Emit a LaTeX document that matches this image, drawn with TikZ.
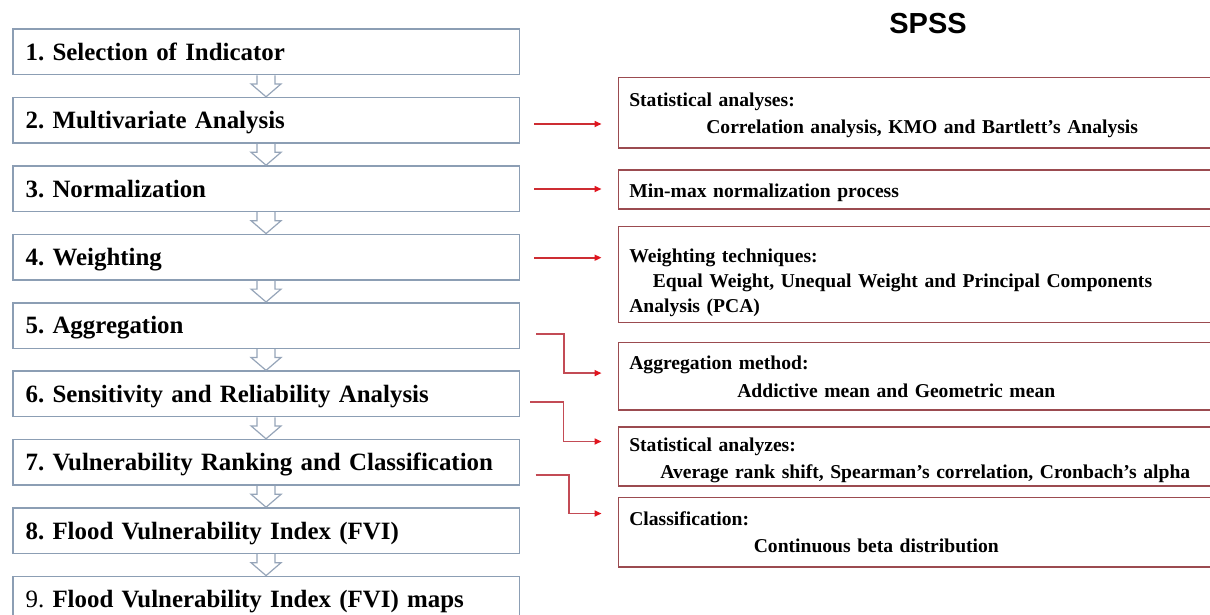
\documentclass[tikz,border=0pt]{standalone}
\usepackage{fontspec}
\setmainfont{Liberation Serif}
\newfontfamily\titlefont{Liberation Sans}
\usepackage{tikz}
\usetikzlibrary{arrows.meta, positioning}

\definecolor{stepgray}{RGB}{140,158,180}
\definecolor{hollowgray}{RGB}{150,165,185}
\definecolor{notered}{RGB}{155,75,80}
\definecolor{linkred}{RGB}{205,45,50}
\definecolor{elbowred}{RGB}{195,75,85}
\definecolor{tipred}{RGB}{225,20,30}

\begin{document}
\frenchspacing
\begin{tikzpicture}[
    x=1pt, y=-1pt,
    node distance=21.4pt,
    stepbox/.style={draw=stepgray, line width=1.5pt, fill=white, anchor=north west,
        minimum width=506.6pt, minimum height=45.5pt, text width=481pt, inner xsep=12.8pt,
        align=left, text height=16.8pt, text depth=0pt,
        font=\fontsize{24.9}{30}\selectfont\bfseries},
    notebox/.style={draw=notered, line width=1.6pt, fill=white, anchor=north west,
        minimum width=600pt, text width=578pt, inner xsep=11pt, align=left,
        font=\fontsize{19.6}{27}\selectfont\bfseries},
    hollow/.style={draw=hollowgray, line width=1.2pt},
    link/.style={draw=linkred, line width=1.6pt, shorten >=16pt,
        -{Triangle[length=7pt,width=6pt,color=tipred]}},
    elbow/.style={link, draw=elbowred}
]
\useasboundingbox (0,0) rectangle (1210,614);
\fill[white] (0,0) rectangle (1210,614);
\clip (0,0) rectangle (1210,614);

\node[font=\titlefont\bfseries\fontsize{29}{34}\selectfont, anchor=base] (spss) at (928,33) {SPSS};

\node[stepbox] (l1) at (12,28.4) {1. Selection of Indicator};
\node[stepbox, below=of l1] (l2) {2. Multivariate Analysis};
\node[stepbox, below=of l2] (l3) {3. Normalization};
\node[stepbox, below=of l3] (l4) {4. Weighting};
\node[stepbox, below=of l4] (l5) {5. Aggregation};
\node[stepbox, below=of l5] (l6) {6. Sensitivity and Reliability Analysis};
\node[stepbox, below=of l6] (l7) {7. Vulnerability Ranking and Classification};
\node[stepbox, below=of l7] (l8) {8. Flood Vulnerability Index (FVI)};
\node[stepbox, below=of l8] (l9) {{\mdseries 9.} Flood Vulnerability Index (FVI) maps};

\foreach \i/\j in {1/2,2/3,3/4,4/5,5/6,6/7,7/8,8/9}
    \draw[hollow] ([xshift=-9pt]l\i.south) -- ++(0,8.5) -- ++(-6,0) -- (l\j.north)
        -- ++(15,-12.9) -- ++(-6,0) -- ++(0,-8.5);

\node[notebox, minimum height=70.6pt, text height=14.4pt, text depth=27pt] (r1) at (617.5,76.7)
    {Statistical analyses:\\\hspace*{77pt}Correlation analysis, KMO and Bartlett's Analysis};
\node[notebox, minimum height=39.3pt, text height=16pt, text depth=0pt] (r2) at (617.5,169)
    {Min-max normalization process};
\node[notebox, minimum height=96pt, text height=26pt, text depth=50pt,
      font=\fontsize{19.6}{25}\selectfont\bfseries] (r3) at (617.5,225.7)
    {Weighting techniques:\\\hspace*{23.5pt}Equal Weight, Unequal Weight and Principal Components\\Analysis (PCA)};
\node[notebox, minimum height=67.6pt, text height=13.6pt, text depth=28pt,
      font=\fontsize{19.6}{28}\selectfont\bfseries] (r4) at (617.5,341.7)
    {Aggregation method:\\\hspace*{108pt}Addictive mean and Geometric mean};
\node[notebox, minimum height=59pt, text height=17pt, text depth=26.6pt] (r5) at (617.5,426)
    {Statistical analyzes:\\\hspace*{31pt}Average rank shift, Spearman's correlation, Cronbach's alpha};
\node[notebox, minimum height=69.3pt, text height=14pt, text depth=26.7pt] (r6) at (617.5,496.7)
    {Classification:\\\hspace*{124.5pt}Continuous beta distribution};

\draw[link] ([xshift=14pt,yshift=-3.7pt]l2.east) coordinate (s2) -- (s2 -| r1.west);
\draw[link] ([xshift=14pt,yshift=-0.3pt]l3.east) coordinate (s3) -- (s3 -| r2.west);
\draw[link] ([xshift=14pt,yshift=-0.6pt]l4.east) coordinate (s4) -- (s4 -| r3.west);

\draw[elbow] ([xshift=16pt,yshift=-8.5pt]l5.east) -- ++(28,0) |- ([yshift=3.2pt]r4.west);
\draw[elbow] ([xshift=10pt,yshift=-7.85pt]l6.east) -- ++(33.4,0) |- ([yshift=14.8pt]r5.west);
\draw[elbow] ([xshift=15.6pt,yshift=-12.45pt]l7.east) -- ++(33,0) |- ([yshift=18.65pt]r6.west);
\end{tikzpicture}
\end{document}
